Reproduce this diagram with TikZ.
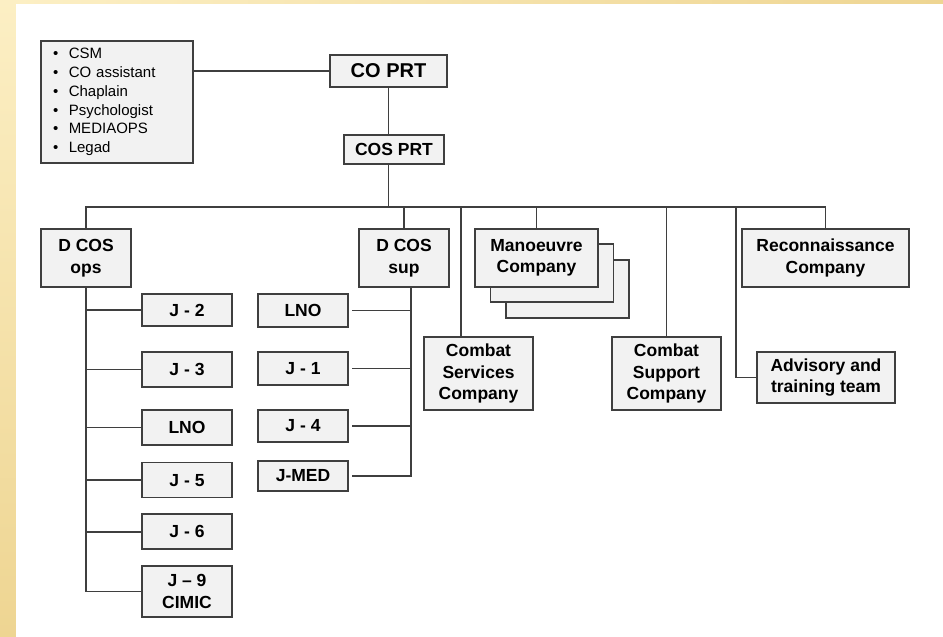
\documentclass[tikz,border=0pt]{standalone}
\usepackage{fontspec}
\setmainfont{Liberation Sans}
\usetikzlibrary{positioning}

\definecolor{boxfill}{HTML}{F2F2F2}
\definecolor{boxline}{HTML}{3F3F3F}
\definecolor{goldlight}{HTML}{FCEFC4}
\definecolor{golddark}{HTML}{EED592}

\begin{document}
\begin{tikzpicture}[
    x=1pt, y=-1pt,
    unit/.style={
        draw=boxline,
        fill=boxfill,
        line width=1.6pt,
        inner sep=0pt,
        align=center,
        font=\bfseries\fontsize{17.5}{21.5}\selectfont
    },
    jbox/.style={unit, minimum width=90pt, minimum height=35pt},
    sbox/.style={unit, minimum width=90pt, minimum height=33pt},
    dbox/.style={unit, minimum width=90pt, minimum height=58pt},
    coy/.style={unit, minimum width=109pt, minimum height=73pt},
    mbox/.style={unit, minimum width=123pt, minimum height=58pt},
    link/.style={draw=boxline, line width=1.6pt, line cap=rect}
]

% slide background
\useasboundingbox (0,0) rectangle (943,637);
\shade[top color=goldlight, bottom color=golddark] (0,0) rectangle (16,637);
\shade[left color=goldlight, right color=golddark] (16,0) rectangle (943,4);
\fill[white] (16,4) rectangle (943,637);

% command group
\node[unit, minimum width=152pt, minimum height=122pt, text width=128pt,
      align=left, font=\fontsize{15}{18.7}\selectfont] (staff) at (117,102)
    {\textbullet\hspace{10.5pt}CSM\\
     \textbullet\hspace{10.5pt}CO assistant\\
     \textbullet\hspace{10.5pt}Chaplain\\
     \textbullet\hspace{10.5pt}Psychologist\\
     \textbullet\hspace{10.5pt}MEDIAOPS\\
     \textbullet\hspace{10.5pt}Legad};
\node[unit, minimum width=117pt, minimum height=32pt,
      font=\bfseries\fontsize{20}{24}\selectfont] (copr) at (388.5,71) {CO PRT};
\node[unit, minimum width=100pt, minimum height=29pt] (cosprt) at (394,149.5) {COS PRT};

% deputies
\node[dbox] (dops) at (86,258) {D COS\\ops};
\node[dbox] (dsup) at (404,258) {D COS\\sup};

% ops cells
\node[jbox, minimum height=32pt] (j2) at (187,310) {J - 2};
\node[jbox] (j3) at (187,369.5) {J - 3};
\node[jbox] (lnoops) at (187,427.5) {LNO};
\node[jbox, below=16pt of lnoops] (j5) {J - 5};
\node[jbox, below=15pt of j5] (j6) {J - 6};
\node[jbox, minimum height=51pt, below=15pt of j6] (j9) {J – 9\\CIMIC};

% sup cells
\node[sbox] (lnosup) at (303,310.5) {LNO};
\node[sbox] (j1) at (303,368.5) {J - 1};
\node[sbox, minimum height=32pt] (j4) at (303,426) {J - 4};
\node[sbox, minimum height=30pt] (jmed) at (303,476) {J-MED};

% companies
\node[coy] (csvc) at (478.5,373.5) {Combat\\Services\\Company};
\node[coy] (csup) at (666.5,373.5) {Combat\\Support\\Company};
\node[mbox] (man3) at (567.5,289) {};
\node[mbox] (man2) at (552,273) {};
\node[mbox] (man) at (536.5,258) {Manoeuvre\\Company};
\node[unit, minimum width=167pt, minimum height=58pt] (recon) at (825.5,258)
    {Reconnaissance\\Company};
\node[unit, minimum width=138pt, minimum height=51pt] (adv) at (826,377.5)
    {Advisory and\\training team};

% top links
\coordinate (bus) at (388,207);
\draw[link] (staff.east |- copr.west) -- (copr.west);
\draw[link] (copr.south) -- (copr.south |- cosprt.north);
\draw[link] (copr.south |- cosprt.south) -- (copr.south |- bus);

% main bus
\draw[link] (dops.north |- bus) -- (recon.north |- bus);
\foreach \nd in {dops,dsup,man,csup,recon}
    \draw[link] (\nd.north |- bus) -- (\nd.north);
\coordinate (svcdrop) at (461,207);
\draw[link] (svcdrop) -- (svcdrop |- csvc.north);
\coordinate (advdrop) at (736,207);
\draw[link] (advdrop) |- (adv.west);

% ops spine
\foreach \nd in {j2,j3,lnoops,j5,j6,j9}
    \draw[link] (dops.south) |- (\nd.west);

% sup spine
\coordinate (supspine) at ([xshift=7pt]dsup.south);
\foreach \nd in {lnosup,j1,j4,jmed}
    \draw[link, shorten >=4pt] (supspine) |- (\nd.east);

\end{tikzpicture}
\end{document}
